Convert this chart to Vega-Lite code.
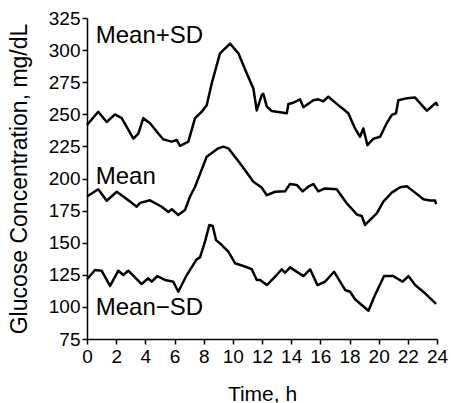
{
  "$schema": "https://vega.github.io/schema/vega-lite/v6.json",
  "autosize": "none",
  "width": 350,
  "height": 321,
  "padding": {"left": 87, "top": 18, "right": 14, "bottom": 64},
  "background": "white",
  "config": {
    "view": {"stroke": null},
    "font": "Liberation Sans",
    "axis": {
      "domainColor": "black",
      "domainWidth": 1.5,
      "tickColor": "black",
      "tickWidth": 1.5,
      "tickSize": 5,
      "grid": false,
      "labelColor": "black",
      "titleColor": "black",
      "labelFont": "Liberation Sans",
      "titleFont": "Liberation Sans",
      "titleFontWeight": "normal",
      "labelOverlap": false,
      "labelSeparation": 0
    }
  },
  "datasets": {
    "lines": [
      {"series": "Mean+SD", "t": 0.0, "v": 241.7},
      {"series": "Mean+SD", "t": 0.77, "v": 252},
      {"series": "Mean+SD", "t": 1.35, "v": 244},
      {"series": "Mean+SD", "t": 1.92, "v": 250},
      {"series": "Mean+SD", "t": 2.38, "v": 247},
      {"series": "Mean+SD", "t": 3.18, "v": 231},
      {"series": "Mean+SD", "t": 3.52, "v": 235},
      {"series": "Mean+SD", "t": 3.86, "v": 247},
      {"series": "Mean+SD", "t": 4.32, "v": 243},
      {"series": "Mean+SD", "t": 4.89, "v": 235},
      {"series": "Mean+SD", "t": 5.23, "v": 230.5},
      {"series": "Mean+SD", "t": 5.81, "v": 228.7},
      {"series": "Mean+SD", "t": 6.15, "v": 230},
      {"series": "Mean+SD", "t": 6.38, "v": 225.5},
      {"series": "Mean+SD", "t": 6.95, "v": 228.7},
      {"series": "Mean+SD", "t": 7.41, "v": 247},
      {"series": "Mean+SD", "t": 7.87, "v": 252},
      {"series": "Mean+SD", "t": 8.21, "v": 257},
      {"series": "Mean+SD", "t": 8.55, "v": 274},
      {"series": "Mean+SD", "t": 9.12, "v": 297.5},
      {"series": "Mean+SD", "t": 9.81, "v": 305},
      {"series": "Mean+SD", "t": 10.38, "v": 297.5},
      {"series": "Mean+SD", "t": 10.95, "v": 282},
      {"series": "Mean+SD", "t": 11.41, "v": 270},
      {"series": "Mean+SD", "t": 11.64, "v": 253},
      {"series": "Mean+SD", "t": 11.98, "v": 265},
      {"series": "Mean+SD", "t": 12.09, "v": 266},
      {"series": "Mean+SD", "t": 12.33, "v": 256},
      {"series": "Mean+SD", "t": 12.67, "v": 252.6},
      {"series": "Mean+SD", "t": 13.7, "v": 250.8},
      {"series": "Mean+SD", "t": 13.81, "v": 258},
      {"series": "Mean+SD", "t": 14.15, "v": 259},
      {"series": "Mean+SD", "t": 14.61, "v": 261.7},
      {"series": "Mean+SD", "t": 14.84, "v": 255.5},
      {"series": "Mean+SD", "t": 15.52, "v": 261},
      {"series": "Mean+SD", "t": 15.86, "v": 261.7},
      {"series": "Mean+SD", "t": 16.2, "v": 260},
      {"series": "Mean+SD", "t": 16.55, "v": 263.7},
      {"series": "Mean+SD", "t": 17.35, "v": 256},
      {"series": "Mean+SD", "t": 17.92, "v": 250.8},
      {"series": "Mean+SD", "t": 18.38, "v": 239},
      {"series": "Mean+SD", "t": 18.72, "v": 232.5},
      {"series": "Mean+SD", "t": 18.95, "v": 239},
      {"series": "Mean+SD", "t": 19.23, "v": 226},
      {"series": "Mean+SD", "t": 19.64, "v": 231},
      {"series": "Mean+SD", "t": 20.1, "v": 232.5},
      {"series": "Mean+SD", "t": 20.55, "v": 243},
      {"series": "Mean+SD", "t": 20.9, "v": 249.5},
      {"series": "Mean+SD", "t": 21.19, "v": 250.8},
      {"series": "Mean+SD", "t": 21.35, "v": 261},
      {"series": "Mean+SD", "t": 21.93, "v": 262.5},
      {"series": "Mean+SD", "t": 22.5, "v": 263},
      {"series": "Mean+SD", "t": 23.3, "v": 252.8},
      {"series": "Mean+SD", "t": 23.94, "v": 259},
      {"series": "Mean+SD", "t": 24.05, "v": 256.5},

      {"series": "Mean", "t": 0.0, "v": 186},
      {"series": "Mean", "t": 0.77, "v": 191.6},
      {"series": "Mean", "t": 1.35, "v": 182.7},
      {"series": "Mean", "t": 2.04, "v": 189.7},
      {"series": "Mean", "t": 2.95, "v": 182},
      {"series": "Mean", "t": 3.41, "v": 178},
      {"series": "Mean", "t": 3.64, "v": 181},
      {"series": "Mean", "t": 4.32, "v": 183},
      {"series": "Mean", "t": 5.12, "v": 178},
      {"series": "Mean", "t": 5.58, "v": 174},
      {"series": "Mean", "t": 5.81, "v": 176},
      {"series": "Mean", "t": 6.26, "v": 171.6},
      {"series": "Mean", "t": 6.72, "v": 175.5},
      {"series": "Mean", "t": 7.06, "v": 185.8},
      {"series": "Mean", "t": 7.41, "v": 193.6},
      {"series": "Mean", "t": 8.21, "v": 217},
      {"series": "Mean", "t": 9.0, "v": 223.5},
      {"series": "Mean", "t": 9.35, "v": 224.8},
      {"series": "Mean", "t": 9.69, "v": 223.5},
      {"series": "Mean", "t": 10.49, "v": 211.8},
      {"series": "Mean", "t": 11.41, "v": 197.5},
      {"series": "Mean", "t": 11.98, "v": 193},
      {"series": "Mean", "t": 12.33, "v": 187},
      {"series": "Mean", "t": 12.9, "v": 189.7},
      {"series": "Mean", "t": 13.58, "v": 190},
      {"series": "Mean", "t": 13.92, "v": 195.7},
      {"series": "Mean", "t": 14.38, "v": 195},
      {"series": "Mean", "t": 14.79, "v": 190},
      {"series": "Mean", "t": 15.18, "v": 193.6},
      {"series": "Mean", "t": 15.52, "v": 195.7},
      {"series": "Mean", "t": 15.86, "v": 190},
      {"series": "Mean", "t": 16.32, "v": 192.3},
      {"series": "Mean", "t": 17.12, "v": 191.6},
      {"series": "Mean", "t": 17.81, "v": 180.7},
      {"series": "Mean", "t": 18.5, "v": 172},
      {"series": "Mean", "t": 18.84, "v": 170.8},
      {"series": "Mean", "t": 19.07, "v": 163.8},
      {"series": "Mean", "t": 19.41, "v": 167.7},
      {"series": "Mean", "t": 19.87, "v": 172.9},
      {"series": "Mean", "t": 20.32, "v": 182},
      {"series": "Mean", "t": 20.9, "v": 189},
      {"series": "Mean", "t": 21.47, "v": 193.2},
      {"series": "Mean", "t": 21.93, "v": 194},
      {"series": "Mean", "t": 22.5, "v": 189},
      {"series": "Mean", "t": 23.07, "v": 183.8},
      {"series": "Mean", "t": 23.53, "v": 182.8},
      {"series": "Mean", "t": 23.87, "v": 182.8},
      {"series": "Mean", "t": 23.94, "v": 180},

      {"series": "Mean−SD", "t": 0.0, "v": 121.5},
      {"series": "Mean−SD", "t": 0.55, "v": 128.7},
      {"series": "Mean−SD", "t": 1.0, "v": 128.2},
      {"series": "Mean−SD", "t": 1.58, "v": 116.3},
      {"series": "Mean−SD", "t": 2.15, "v": 128.2},
      {"series": "Mean−SD", "t": 2.49, "v": 124.8},
      {"series": "Mean−SD", "t": 2.83, "v": 128.2},
      {"series": "Mean−SD", "t": 3.75, "v": 117.8},
      {"series": "Mean−SD", "t": 4.2, "v": 122.3},
      {"series": "Mean−SD", "t": 4.44, "v": 119.6},
      {"series": "Mean−SD", "t": 4.82, "v": 124},
      {"series": "Mean−SD", "t": 5.35, "v": 121},
      {"series": "Mean−SD", "t": 5.92, "v": 119.6},
      {"series": "Mean−SD", "t": 6.26, "v": 111.8},
      {"series": "Mean−SD", "t": 6.84, "v": 124.8},
      {"series": "Mean−SD", "t": 7.52, "v": 137},
      {"series": "Mean−SD", "t": 7.75, "v": 138.6},
      {"series": "Mean−SD", "t": 8.09, "v": 150.8},
      {"series": "Mean−SD", "t": 8.39, "v": 163.8},
      {"series": "Mean−SD", "t": 8.62, "v": 163},
      {"series": "Mean−SD", "t": 8.85, "v": 152},
      {"series": "Mean−SD", "t": 9.24, "v": 148.2},
      {"series": "Mean−SD", "t": 9.69, "v": 143},
      {"series": "Mean−SD", "t": 10.15, "v": 134},
      {"series": "Mean−SD", "t": 10.72, "v": 131.9},
      {"series": "Mean−SD", "t": 11.3, "v": 129.3},
      {"series": "Mean−SD", "t": 11.64, "v": 121},
      {"series": "Mean−SD", "t": 11.87, "v": 121},
      {"series": "Mean−SD", "t": 12.33, "v": 117},
      {"series": "Mean−SD", "t": 12.9, "v": 123.5},
      {"series": "Mean−SD", "t": 13.35, "v": 129.3},
      {"series": "Mean−SD", "t": 13.58, "v": 126.6},
      {"series": "Mean−SD", "t": 13.92, "v": 130.8},
      {"series": "Mean−SD", "t": 14.84, "v": 124},
      {"series": "Mean−SD", "t": 15.3, "v": 129.3},
      {"series": "Mean−SD", "t": 15.8, "v": 117},
      {"series": "Mean−SD", "t": 16.32, "v": 119.6},
      {"series": "Mean−SD", "t": 16.94, "v": 127.4},
      {"series": "Mean−SD", "t": 17.7, "v": 113.2},
      {"series": "Mean−SD", "t": 18.04, "v": 111.8},
      {"series": "Mean−SD", "t": 18.38, "v": 106},
      {"series": "Mean−SD", "t": 19.3, "v": 97},
      {"series": "Mean−SD", "t": 19.75, "v": 109.3},
      {"series": "Mean−SD", "t": 20.37, "v": 124},
      {"series": "Mean−SD", "t": 21.0, "v": 124},
      {"series": "Mean−SD", "t": 21.65, "v": 119.6},
      {"series": "Mean−SD", "t": 22.04, "v": 124},
      {"series": "Mean−SD", "t": 22.5, "v": 117},
      {"series": "Mean−SD", "t": 23.18, "v": 110.6},
      {"series": "Mean−SD", "t": 23.94, "v": 102.3}
    ],
    "labels": [
      {"label": "Mean+SD", "t": 0.6, "v": 311},
      {"label": "Mean", "t": 0.6, "v": 201},
      {"label": "Mean−SD", "t": 0.6, "v": 99}
    ]
  },
  "encoding": {
    "x": {
      "field": "t", "type": "quantitative",
      "scale": {"domain": [0, 24], "nice": false, "zero": false},
      "axis": {"values": [0,2,4,6,8,10,12,14,16,18,20,22,24], "title": "Time, h", "labelFontSize": 19, "titleFontSize": 21, "titleFontWeight": 400, "labelPadding": 3, "titlePadding": 17, "labelFlush": false, "labelOverlap": false}
    },
    "y": {
      "field": "v", "type": "quantitative",
      "scale": {"domain": [75, 325], "nice": false, "zero": false},
      "axis": {"values": [75,100,125,150,175,200,225,250,275,300,325], "title": "Glucose Concentration, mg/dL", "labelFontSize": 19, "titleFontSize": 23, "titleFontWeight": 400, "labelPadding": 2, "titlePadding": 17, "labelFlush": false, "labelOverlap": false}
    }
  },
  "layer": [
    {
      "data": {"name": "lines"},
      "mark": {"type": "line", "color": "black", "strokeWidth": 2.5, "strokeJoin": "round"},
      "encoding": {
        "detail": {"field": "series", "type": "nominal"}
      }
    },
    {
      "data": {"name": "labels"},
      "mark": {"type": "text", "align": "left", "baseline": "middle", "fontSize": 24, "color": "black", "font": "Liberation Sans"},
      "encoding": {
        "text": {"field": "label"}
      }
    }
  ]
}
